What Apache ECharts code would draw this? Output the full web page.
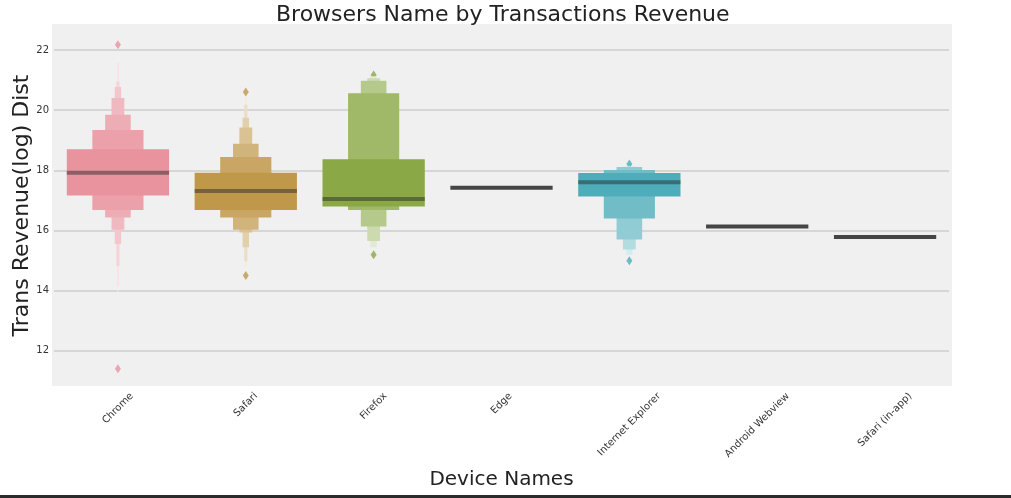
<!DOCTYPE html>
<html>
<head>
<meta charset="utf-8">
<script src="https://cdn.jsdelivr.net/npm/echarts@6/dist/echarts.min.js"></script>
<style>
html,body{margin:0;padding:0;background:#fff;}
#chart{width:1011px;height:498px;}
</style>
</head>
<body>
<div id="chart"></div>
<script>
// ---- data ----
const categories = ['Chrome','Safari','Firefox','Edge','Internet Explorer','Android Webview','Safari (in-app)'];
const yTicks = [12,14,16,18,20,22];
// letter-value box bounds, innermost level first
const chromeLow  = [17.16,16.68,16.43,16.02,15.55,14.82,14.14,13.30];
const chromeHigh = [18.70,19.34,19.85,20.40,20.77,20.95,21.57,21.83];
const safariLow  = [16.68,16.43,16.02,15.93,15.44,14.97,14.76];
const safariHigh = [17.92,18.44,18.88,19.42,19.75,20.18,20.45];
const firefoxLow  = [16.80,16.68,16.13,15.65,15.44];
const firefoxHigh = [18.37,20.56,20.98,21.06,21.13];
const ieLow  = [17.13,16.40,15.70,15.37,15.19];
const ieHigh = [17.91,18.01,18.11,18.12,18.13];
const medians = [17.92,17.31,17.05,17.42,17.60,16.13,15.78];
const outlierCat = [0,0,1,1,2,2,4,4];
const outlierVal = [22.17,11.40,20.60,14.50,21.17,15.19,18.21,14.99];

// ---- styles ----
const baseColors = ['#E8939E','#C0984A','#8AA845',null,'#4EADBA',null,null];
function mix(hex, t){
  const r=parseInt(hex.slice(1,3),16),g=parseInt(hex.slice(3,5),16),b=parseInt(hex.slice(5,7),16);
  const f=c=>Math.round(c+(255-c)*t);
  return 'rgb('+f(r)+','+f(g)+','+f(b)+')';
}
const boxSets = [[0,chromeLow,chromeHigh],[1,safariLow,safariHigh],[2,firefoxLow,firefoxHigh],[4,ieLow,ieHigh]];
const boxData = [];
boxSets.forEach(([cat,lo,hi])=>{
  for(let k=lo.length-1;k>=0;k--) boxData.push([cat,lo[k],hi[k],k,lo.length]);
});
const medianData = medians.map((m,i)=>[i,m]);
const outlierData = outlierCat.map((c,i)=>({value:[c,outlierVal[i]],itemStyle:{color:baseColors[c]}}));
const labelData = categories.map((c,i)=>[i]);

const FONT = 'DejaVu Sans';
const LABEL_FONT = '10px "DejaVu Sans"';
const measureCtx = document.createElement('canvas').getContext('2d');
measureCtx.font = LABEL_FONT;
const Y_MIN = 10.83, Y_MAX = 22.83;

const chart = echarts.init(document.getElementById('chart'));
chart.setOption({
  animation:false,
  backgroundColor:'#ffffff',
  title:{text:'Browsers Name by Transactions Revenue',left:271,top:-1,
    textStyle:{fontFamily:FONT,fontSize:22,fontWeight:'normal',color:'#222'}},
  grid:{left:54,right:62,top:25,bottom:112,show:false,containLabel:false,outerBoundsMode:'none'},
  xAxis:{type:'category',data:categories,
    axisLine:{show:false},axisTick:{show:false},splitLine:{show:false},
    axisLabel:{show:false},
    name:'Device Names',nameLocation:'middle',nameGap:84,nameMoveOverlap:false,
    nameTextStyle:{fontFamily:FONT,fontSize:20,color:'#222'}},
  yAxis:{type:'value',min:Y_MIN,max:Y_MAX,
    axisLine:{show:false},axisTick:{show:false},splitLine:{show:false},
    axisLabel:{fontSize:10,fontFamily:FONT,color:'#333',margin:5,
      formatter:v=>yTicks.some(t=>Math.abs(t-v)<1e-6)?String(Math.round(v)):''},
    name:'Trans Revenue(log) Dist',nameLocation:'middle',nameGap:21,nameMoveOverlap:false,
    nameTextStyle:{fontFamily:FONT,fontSize:22,color:'#222'}},
  graphic:[
    {type:'rect',left:52,top:24,z:-100,shape:{width:900,height:362},style:{fill:'#F0F0F0'},silent:true},
    {type:'rect',left:0,top:495,shape:{width:1011,height:3},style:{fill:'#2b2b2b'},silent:true}
  ],
  series:[
    {type:'scatter',z:1,data:outlierData,symbol:'diamond',symbolSize:[6,9],silent:true,
      markLine:{z:1,silent:true,symbol:'none',label:{show:false},
        lineStyle:{color:'#CECECE',width:1.5,type:'solid'},
        data:yTicks.map(t=>({yAxis:t}))}},
    {type:'custom',z:3,silent:true,data:boxData,
      renderItem:(params,api)=>{
        const cat=api.value(0),lo=api.value(1),hi=api.value(2),k=api.value(3),n=api.value(4);
        const bw=api.size([1,0])[0]*0.8;
        const w=bw/Math.pow(2,k);
        const p1=api.coord([cat,hi]),p2=api.coord([cat,lo]);
        return {type:'rect',shape:{x:p1[0]-w/2,y:p1[1],width:w,height:p2[1]-p1[1]},
          style:{fill:mix(baseColors[cat],k/n*0.95)}};
      }},
    {type:'custom',z:4,silent:true,data:medianData,
      renderItem:(params,api)=>{
        const cat=api.value(0),m=api.value(1);
        const bw=api.size([1,0])[0]*0.8;
        const p=api.coord([cat,m]);
        return {type:'rect',shape:{x:p[0]-bw/2,y:p[1]-2,width:bw,height:4},
          style:{fill:baseColors[cat]?'rgba(30,30,30,0.45)':'#454545'}};
      }},
    {type:'custom',z:5,silent:true,clip:false,data:labelData,
      renderItem:(params,api)=>{
        const i=api.value(0);
        const txt=categories[i];
        const w=measureCtx.measureText(txt).width;
        const p=api.coord([i,Y_MIN]);
        const half=(w+10)*Math.SQRT1_2/2;
        return {type:'text',x:p[0],y:p[1]+5+half,rotation:Math.PI/4,
          style:{text:txt,font:LABEL_FONT,fill:'#333',align:'center',verticalAlign:'middle'}};
      }}
  ]
});
</script>
</body>
</html>
